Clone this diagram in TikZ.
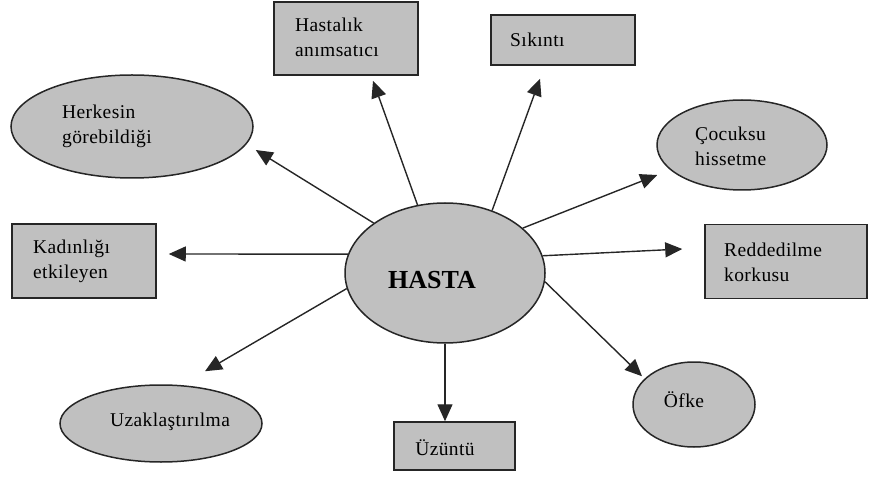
\documentclass[tikz,border=0pt]{standalone}
\usepackage{fontspec}
\setmainfont{Liberation Serif}
\newfontfamily\labfont{Liberation Serif}[LetterSpace=2]
\usetikzlibrary{arrows.meta,shapes.geometric,calc}
\tikzset{
  shapeline/.style={draw=black!85, line width=1.5pt, fill=shade, inner sep=0pt},
  boxnode/.style={shapeline, rectangle},
  ovalnode/.style={shapeline, ellipse},
  lab/.style={inner sep=0pt, align=left, font=\labfont\fontsize{19.5}{25}\selectfont},
  arr/.style={draw=black!85, line width=1.4pt, -{Triangle[length=17pt,width=15pt]}},
}
\definecolor{shade}{RGB}{192,192,192}
\begin{document}
\begin{tikzpicture}[x=1pt,y=1pt]
\useasboundingbox (0,0) rectangle (869,477);
% shapes
\node[ovalnode, minimum width=200pt, minimum height=140pt] (hasta) at (445,204) {};
\node[boxnode, minimum width=144pt, minimum height=73pt] (hastalik) at (346,438.5) {};
\node[boxnode, minimum width=144pt, minimum height=50pt] (sikinti) at (563,437) {};
\node[ovalnode, minimum width=242pt, minimum height=103pt] (herkesin) at (132,350.5) {};
\node[ovalnode, minimum width=170pt, minimum height=90pt] (cocuksu) at (742,332) {};
\node[boxnode, minimum width=162pt, minimum height=74pt] (reddedilme) at (786,215.5) {};
\node[boxnode, minimum width=144pt, minimum height=74pt] (kadinligi) at (84,216) {};
\node[ovalnode, minimum width=202pt, minimum height=77pt] (uzak) at (161,53.5) {};
\node[boxnode, minimum width=121pt, minimum height=48pt] (uzuntu) at (454.5,31) {};
\node[ovalnode, minimum width=122pt, minimum height=85pt] (ofke) at (694,72.5) {};
% texts
\node[inner sep=0pt, font=\bfseries\fontsize{26}{30}\selectfont] (thasta) at (432,197) {HASTA};
\node[lab, anchor=west] (thastalik) at (295,439.5) {Hastalık\\anımsatıcı};
\node[lab, anchor=west] (tsikinti) at (510,437) {Sıkıntı};
\node[lab, anchor=west] (therkesin) at (62,350.5) {Herkesin\\görebildiği};
\node[lab, anchor=west] (tcocuksu) at (695,330.5) {Çocuksu\\hissetme};
\node[lab, anchor=west] (treddedilme) at (724,215) {Reddedilme\\korkusu};
\node[lab, anchor=west] (tkadinligi) at (33,215.5) {Kadınlığı\\etkileyen};
\node[lab] (tuzak) at (170,55) {Uzaklaştırılma};
\node[lab] (tuzuntu) at (445,29) {Üzüntü};
\node[lab] (tofke) at (684,77) {Öfke};
% connectors
\draw[arr] (hasta.112.6) -- ($(hastalik.south)+(27,-5)$);
\draw[arr] (hasta.53.9) -- ($(sikinti.south)+(-23,-13)$);
\draw[arr] (hasta.145.6) -- ($(herkesin.east)+(2,-23.5)$);
\draw[arr] (hasta.30.5) -- ($(cocuksu.west)+(1,-30)$);
\draw[arr] (hasta.10.8) -- ($(reddedilme.west)+(-22,12.5)$);
\draw[arr] (hasta.169.2) -- ($(kadinligi.east)+(12,7)$);
\draw[arr] (hasta.189.1) -- ($(uzak.north)+(44,13)$);
\draw[arr] (hasta.270) -- ($(uzuntu.north)+(-9.5,0)$);
\draw[arr] (hasta.-5.6) -- ($(ofke.north)+(-52,-15)$);
\end{tikzpicture}
\end{document}
